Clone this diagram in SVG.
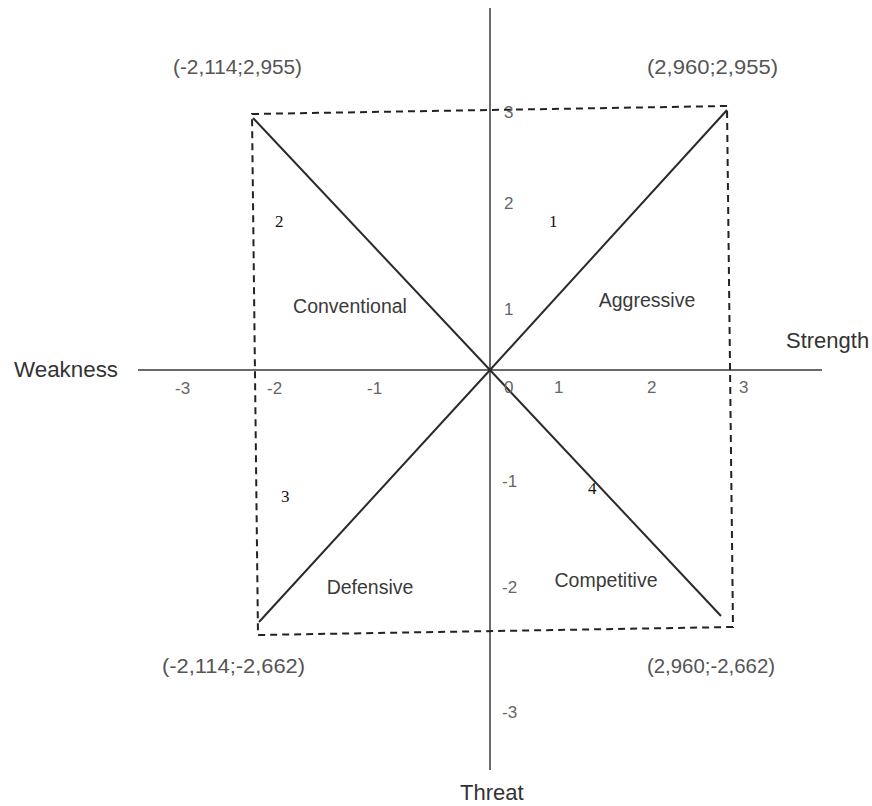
<svg xmlns="http://www.w3.org/2000/svg" width="872" height="806" viewBox="0 0 872 806">
<style>
.axis{stroke:#6a6a6a;stroke-width:2;fill:none}
.diag{stroke:#2a2a2a;stroke-width:2;fill:none}
.dash{stroke:#222;stroke-width:2;fill:none;stroke-dasharray:7 5}
.sans{font-family:"Liberation Sans",Arial,sans-serif}
.ax{font-size:22px;fill:#333}
.quad{font-size:19.5px;fill:#3a3a3a;text-anchor:middle}
.tick{font-size:17px;fill:#666}
.coord{font-size:20px;fill:#555}
.num{font-family:"Liberation Serif","Times New Roman",serif;font-size:17px;fill:#111}
</style>
<rect width="872" height="806" fill="#fff"/>
<g id="connectors">
<line class="axis" x1="490" y1="8" x2="490" y2="770"/>
<line class="axis" x1="138" y1="370" x2="822" y2="370"/>
<polyline class="diag" points="253,118 490,370 727,110"/>
<polyline class="diag" points="259,622 490,370 721,616"/>
<polygon class="dash" points="252,114 727,106 733,627 258,635"/>
</g>
<g id="axis-labels" class="sans">
<text class="ax" x="14" y="377" textLength="104" lengthAdjust="spacingAndGlyphs">Weakness</text>
<text class="ax" x="786" y="348">Strength</text>
<text class="ax" x="460" y="800">Threat</text>
</g>
<g id="ticks" class="sans">
<text class="tick" x="175" y="394">-3</text>
<text class="tick" x="267" y="394">-2</text>
<text class="tick" x="367" y="394">-1</text>
<text class="tick" x="504" y="393">0</text>
<text class="tick" x="554" y="393">1</text>
<text class="tick" x="647" y="393">2</text>
<text class="tick" x="739" y="393">3</text>
<text class="tick" x="504" y="118">3</text>
<text class="tick" x="504" y="209">2</text>
<text class="tick" x="504" y="315">1</text>
<text class="tick" x="502" y="487">-1</text>
<text class="tick" x="502" y="593">-2</text>
<text class="tick" x="502" y="718">-3</text>
</g>
<g id="corner-labels" class="sans">
<text class="coord" x="173" y="74" textLength="129" lengthAdjust="spacingAndGlyphs">(-2,114;2,955)</text>
<text class="coord" x="647" y="74" textLength="131" lengthAdjust="spacingAndGlyphs">(2,960;2,955)</text>
<text class="coord" x="162" y="673" textLength="143" lengthAdjust="spacingAndGlyphs">(-2,114;-2,662)</text>
<text class="coord" x="647" y="673" textLength="128" lengthAdjust="spacingAndGlyphs">(2,960;-2,662)</text>
</g>
<g id="q1"><text class="sans quad" x="647" y="307">Aggressive</text><text class="num" x="549" y="227">1</text></g>
<g id="q2"><text class="sans quad" x="350" y="313">Conventional</text><text class="num" x="275" y="227">2</text></g>
<g id="q3"><text class="sans quad" x="370" y="594">Defensive</text><text class="num" x="281" y="502">3</text></g>
<g id="q4"><text class="sans quad" x="606" y="587">Competitive</text><text class="num" x="588" y="494">4</text></g>
</svg>
